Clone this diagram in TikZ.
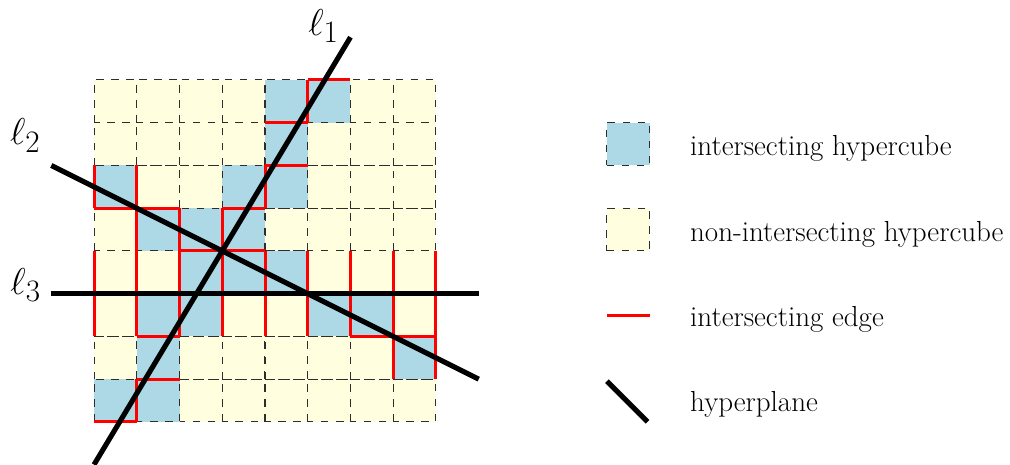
\documentclass[tikz,border=0pt]{standalone}
\usepackage{amsmath}
\usepackage{amssymb}
\usepackage{tikz}
\usetikzlibrary{
  positioning
}
\definecolor{cellcolor}{RGB}{255, 255, 224}
\definecolor{hitcolor}{RGB}{173, 216, 230}
\definecolor{edgecolor}{RGB}{255, 0, 0}
\definecolor{gridcolor}{RGB}{45, 45, 45}
\definecolor{planecolor}{RGB}{0, 0, 0}
\tikzset{
cellbox/.style={
  draw=gridcolor,
  dash pattern=on 5pt off 5pt,
  line width=0.7pt,
  fill=cellcolor
},
hitbox/.style={
  cellbox,
  fill=hitcolor
},
hitedge/.style={
  draw=edgecolor,
  line width=2pt
},
hyperplane/.style={
  draw=planecolor,
  line width=3.4pt
},
planelabel/.style={
  font=\Huge,
  inner sep=0pt
},
legendtext/.style={
  font=\fontsize{19.3}{23}\selectfont,
  inner sep=0pt,
  anchor=base west
}
}

\begin{document}
\begin{tikzpicture}
      \useasboundingbox (-2.2,-1.006) rectangle (21.43,9.871);
      % all hypercubes
      \foreach \x in {0,...,7}
        \foreach \y in {0,...,7}
          \path[cellbox] (\x,\y) rectangle ++(1,1);
      % hypercubes cut by a hyperplane
      \foreach \x/\y in {0/0,1/0,1/1,7/1,1/2,2/2,5/2,6/2,2/3,3/3,4/3,1/4,2/4,3/4,0/5,3/5,4/5,4/6,4/7,5/7}
        \path[hitbox] (\x,\y) rectangle ++(1,1);
      % intersecting edges
      \foreach \x/\y in {0/2,0/3,0/5,1/0,1/2,1/3,1/4,1/5,2/2,2/3,2/4,3/2,3/3,3/4,4/2,4/3,4/5,5/2,5/3,5/7,6/2,6/3,7/1,7/2,7/3,8/1,8/2,8/3}
        \draw[hitedge] (\x,\y) -- ++(0,1);
      \foreach \x/\y in {0/0,1/1,1/2,6/2,7/2,0/3,1/3,2/3,3/3,4/3,5/3,6/3,7/3,2/4,3/4,0/5,1/5,3/5,4/6,4/7,5/8}
        \draw[hitedge] (\x,\y) -- ++(1,0);
      % hyperplanes
      \coordinate (l1a) at (0,-1);
      \coordinate (l1b) at (6,9);
      \coordinate (l2a) at (-1,6);
      \coordinate (l2b) at (9,1);
      \coordinate (l3a) at (-1,3);
      \coordinate (l3b) at (9,3);
      \draw[hyperplane] (l1a) -- (l1b);
      \draw[hyperplane] (l2a) -- (l2b);
      \draw[hyperplane] (l3a) -- (l3b);
      \node[planelabel] (lab1) at (5.37,9.26) {$\ell_1$};
      \node[planelabel] (lab2) at (-1.61,6.70) {$\ell_2$};
      \node[planelabel] (lab3) at (-1.60,3.20) {$\ell_3$};
      % legend
      \node[hitbox, minimum size=1cm, inner sep=0pt] (hitkey) at (12.5,6.5) {};
      \node[legendtext] (hittext) at (13.94,6.24) {intersecting hypercube};
      \node[cellbox, minimum size=1cm, inner sep=0pt] (cellkey) at (12.5,4.5) {};
      \node[legendtext] (celltext) at (13.94,4.23) {non-intersecting hypercube};
      \coordinate (edgekeya) at (12,2.48);
      \coordinate (edgekeyb) at (13,2.48);
      \draw[hitedge] (edgekeya) -- (edgekeyb);
      \node[legendtext] (edgetext) at (13.94,2.23) {intersecting edge};
      \coordinate (planekeya) at (12,0.95);
      \coordinate (planekeyb) at (12.95,0);
      \draw[hyperplane] (planekeya) -- (planekeyb);
      \node[legendtext] (planetext) at (13.94,0.24) {hyperplane};
    \end{tikzpicture}
\end{document}
